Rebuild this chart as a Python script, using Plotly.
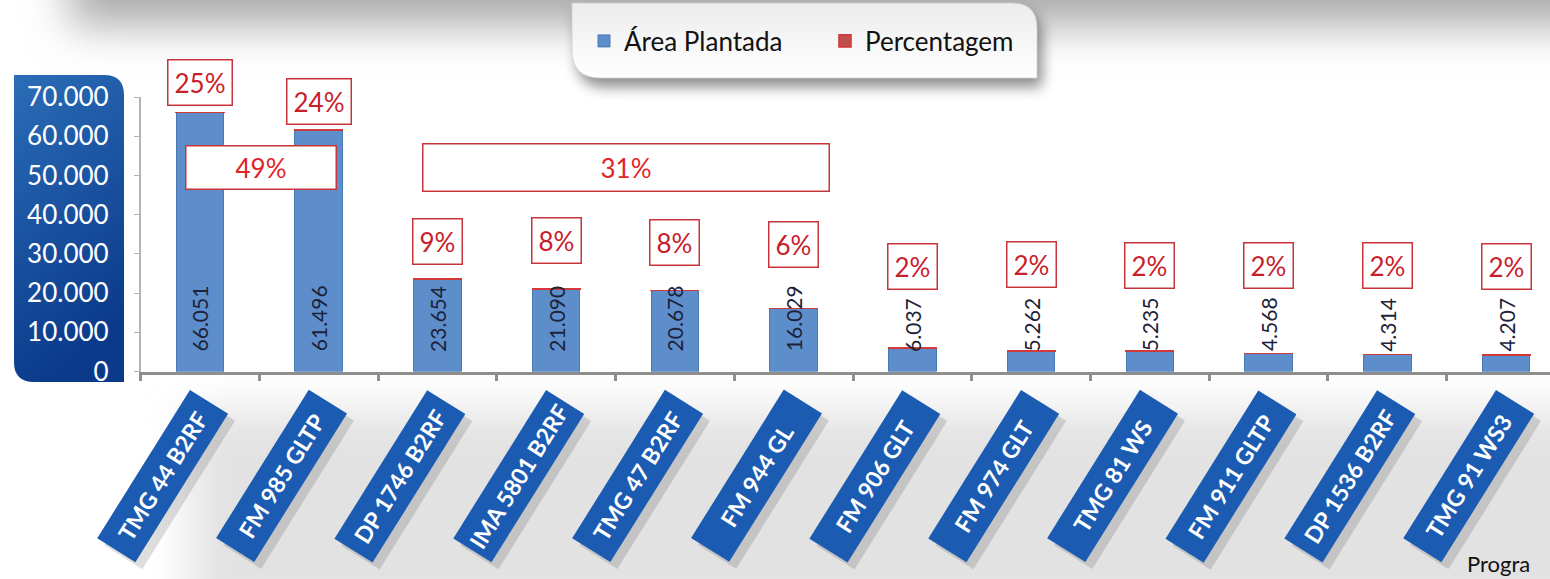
import base64
import plotly.graph_objects as go

# ---------------- data ----------------
categories = ["TMG 44 B2RF", "FM 985 GLTP", "DP 1746 B2RF", "IMA 5801 B2RF",
              "TMG 47 B2RF", "FM 944 GL", "FM 906 GLT", "FM 974 GLT",
              "TMG 81 WS", "FM 911 GLTP", "DP 1536 B2RF", "TMG 91 WS3"]
area_plantada = [66051, 61496, 23654, 21090, 20678, 16029, 6037, 5262, 5235, 4568, 4314, 4207]
percentagem = [25, 24, 9, 8, 8, 6, 2, 2, 2, 2, 2, 2]
group_members = [[0, 1], [2, 3, 4, 5]]
y_tick_values = [0, 10000, 20000, 30000, 40000, 50000, 60000, 70000]

# ---------------- layout helpers ----------------
W, H = 1550, 579
FONT = "Lato, 'Open Sans', sans-serif"


def pxx(p):
    return p / W


def pxy(p):
    return 1 - p / H


# vertical lift (px) of each percentage box above its bar top
pct_label_lift = [30, 29, 37, 48, 48, 64, 81, 86, 85, 88, 89, 89]
group_box_size = [(137, 30), (393, 34)]
group_box_xshift = [2, 10]
group_box_center_y = 167.5

# ---------------- background (decoration) ----------------
svg = f"""<svg xmlns='http://www.w3.org/2000/svg' width='{W}' height='{H}' viewBox='0 0 {W} {H}' preserveAspectRatio='none'>
<defs>
<filter id='b1' x='-20%' y='-100%' width='140%' height='300%'><feGaussianBlur stdDeviation='22'/></filter>
<filter id='b2' x='-20%' y='-50%' width='140%' height='200%'><feGaussianBlur stdDeviation='7'/></filter>
<linearGradient id='gp' x1='0' y1='0' x2='0.3' y2='1'><stop offset='0' stop-color='#2b6db7'/><stop offset='1' stop-color='#0b3a8b'/></linearGradient>
<linearGradient id='gl' x1='0' y1='0' x2='0' y2='1'><stop offset='0' stop-color='#ececec'/><stop offset='1' stop-color='#ffffff'/></linearGradient>
</defs>
<rect width='{W}' height='{H}' fill='#ffffff'/>
<rect x='70' y='-70' width='1600' height='95' fill='#a9a9a9' filter='url(#b1)'/>
<rect x='190' y='410' width='1450' height='220' fill='#e2e2e2' filter='url(#b1)'/>
<path d='M572,3 H1012 Q1037,3 1037,28 V78 H600 Q572,78 572,50 Z' fill='#000' opacity='0.45' filter='url(#b2)' transform='translate(5,9)'/>
<path d='M572,3 H1012 Q1037,3 1037,28 V78 H600 Q572,78 572,50 Z' fill='url(#gl)' stroke='#d0d0d0' stroke-width='0.8'/>
<path d='M14,75 H104 Q124,75 124,95 V382 H34 Q14,382 14,362 Z' fill='url(#gp)'/>
</svg>"""
bg_uri = "data:image/svg+xml;base64," + base64.b64encode(svg.encode()).decode()

fig = go.Figure()
fig.add_trace(go.Bar(
    name="Área Plantada", x=categories, y=area_plantada,
    marker=dict(color="#5d8ecb", line=dict(color="#4a78b0", width=1)),
    width=0.4, hoverinfo="x+y"))
fig.add_trace(go.Bar(
    name="Percentagem", x=categories, y=percentagem,
    marker=dict(color="#c0504d", line=dict(color="#d23a3a", width=1.6)),
    width=0.4, hoverinfo="x+y"))

annotations = []
# value labels inside bars
for i, v in enumerate(area_plantada):
    annotations.append(dict(
        x=i, y=0, xref="x", yref="y", text=f"{v:,}".replace(",", "."),
        textangle=-90, xanchor="center", yanchor="bottom", yshift=18,
        showarrow=False, font=dict(family=FONT, size=21, color="#1c2238")))
# percentage boxes above bars
for i, (v, p) in enumerate(zip(area_plantada, percentagem)):
    annotations.append(dict(
        x=i, y=v, xref="x", yref="y", text=f"{p}%", yanchor="middle",
        yshift=pct_label_lift[i], showarrow=False,
        font=dict(family=FONT, size=26, color="#c8202a"),
        bgcolor="white", bordercolor="#c8343a", borderwidth=1.5, borderpad=6))
# group boxes
for members, (bw, bh), xs in zip(group_members, group_box_size, group_box_xshift):
    tot = sum(percentagem[m] for m in members)
    annotations.append(dict(
        x=sum(members) / len(members), y=pxy(group_box_center_y), xref="x", yref="paper",
        xanchor="center", yanchor="middle", xshift=xs,
        text=f"{tot}%", width=bw, height=bh, showarrow=False,
        font=dict(family=FONT, size=26, color="#e02428"),
        bgcolor="white", bordercolor="#c8343a", borderwidth=1.5, borderpad=6))
# category badges (shadow + badge)
for i, c in enumerate(categories):
    annotations.append(dict(
        x=i, y=0, xref="x", yref="y", text=" ", textangle=-58,
        xanchor="right", yanchor="top", xshift=36, yshift=-25,
        width=168, height=38, borderpad=3, bgcolor="rgba(0,0,0,0.13)",
        showarrow=False, font=dict(size=23)))
    annotations.append(dict(
        x=i, y=0, xref="x", yref="y", text=f"<b>{c}</b>", textangle=-58,
        xanchor="right", yanchor="top", xshift=29, yshift=-18,
        width=168, height=38, borderpad=3, bgcolor="#1b5cb2",
        showarrow=False, font=dict(family=FONT, size=23, color="white")))
# partially visible footer text at the bottom right
annotations.append(dict(
    x=pxx(1466), y=pxy(578), xref="paper", yref="paper", text="Progra",
    xanchor="left", yanchor="bottom", showarrow=False, borderpad=0,
    font=dict(family=FONT, size=22, color="#111111")))

fig.update_layout(
    width=W, height=H, margin=dict(l=0, r=0, t=0, b=0, pad=0, autoexpand=False),
    paper_bgcolor="white", plot_bgcolor="rgba(0,0,0,0)",
    separators=",.", barmode="stack", bargap=0.6,
    showlegend=True,
    legend=dict(orientation="h", x=pxx(584), y=pxy(41), xanchor="left", yanchor="middle",
                bgcolor="rgba(0,0,0,0)", traceorder="normal", entrywidth=196,
                entrywidthmode="pixels",
                font=dict(family=FONT, size=26, color="#111111")),
    xaxis=dict(domain=[pxx(140.6), 1], range=[-0.5, 11.37], type="category",
               showline=True, linecolor="#8e8e8e", linewidth=2.5,
               ticks="outside", tickson="boundaries", ticklen=7, tickwidth=2.5,
               tickcolor="#8e8e8e", showticklabels=False, showgrid=False, zeroline=False),
    yaxis=dict(domain=[pxy(371.5), pxy(97)], range=[0, 70000],
               tickvals=y_tick_values, tickformat=",d",
               showline=True, linecolor="#b4b4b4", linewidth=1.5,
               ticks="outside", ticklen=5, tickcolor="#b4b4b4",
               ticklabelstandoff=20,
               tickfont=dict(family=FONT, size=26, color="white"),
               showgrid=False, zeroline=False),
    annotations=annotations,
    images=[dict(source=bg_uri, xref="paper", yref="paper", x=0, y=1,
                 sizex=1, sizey=1, sizing="stretch", layer="below")],
)

fig.write_html("out.html")
